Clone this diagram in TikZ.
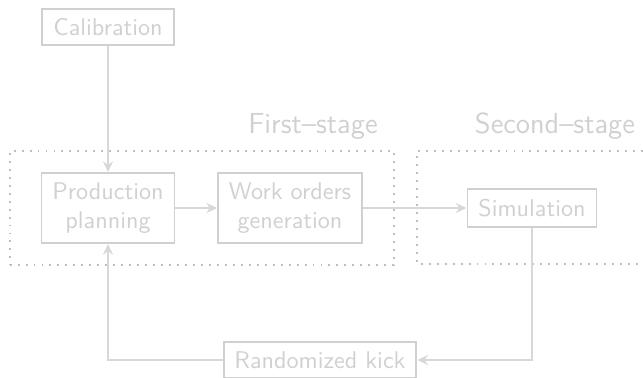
\documentclass[tikz,border=0pt]{standalone}
\usepackage{fontspec}
\usetikzlibrary{arrows.meta,fit}
\definecolor{boxgray}{RGB}{208,208,208}
\definecolor{dotgray}{RGB}{190,190,190}
\definecolor{linkgray}{RGB}{216,216,216}
\begin{document}
\begin{tikzpicture}[x=0.414pt, y=-0.414pt, font=\sffamily, text=boxgray,
    block/.style={draw=boxgray, line width=0.8pt, inner xsep=4.5pt, inner ysep=4pt, align=center},
    link/.style={draw=linkgray, line width=0.6pt, -{Stealth[length=4.5pt, width=4.2pt, inset=1.6pt]}},
    stagebox/.style={draw=dotgray, line width=0.8pt, dash pattern=on 0.8pt off 2.5pt},
    stagelabel/.style={font=\sffamily\large, anchor=base}]
    \useasboundingbox (0,0) rectangle (643,377);

    \node at (108,  27) (calib)  [block] {Calibration};
    \node at (108, 208) (plan)   [block] {Production\\planning};
    \node at (290, 208) (orders) [block] {Work orders\\generation};
    \node at (532, 208) (sim)    [block] {Simulation};
    \node at (320, 360) (kick)   [block] {Randomized kick};

    % stage frames
    \node (first) [stagebox, inner xsep=12.8pt, inner ysep=8.8pt, fit=(plan)(orders)] {};
    \draw [stagebox] (643,151) -- (417,151) -- (417,264) -- (643,264);

    \node at (313, 133) (firstlabel)  [stagelabel] {First–stage};
    \node at (555, 133) (secondlabel) [stagelabel] {Second–stage};

    \draw [link] (calib) -- (plan);
    \draw [link] (plan) -- (orders);
    \draw [link] (orders) -- (sim);
    \draw [link] (sim) |- (kick);
    \draw [link] (kick) -| (plan);
\end{tikzpicture}
\end{document}
